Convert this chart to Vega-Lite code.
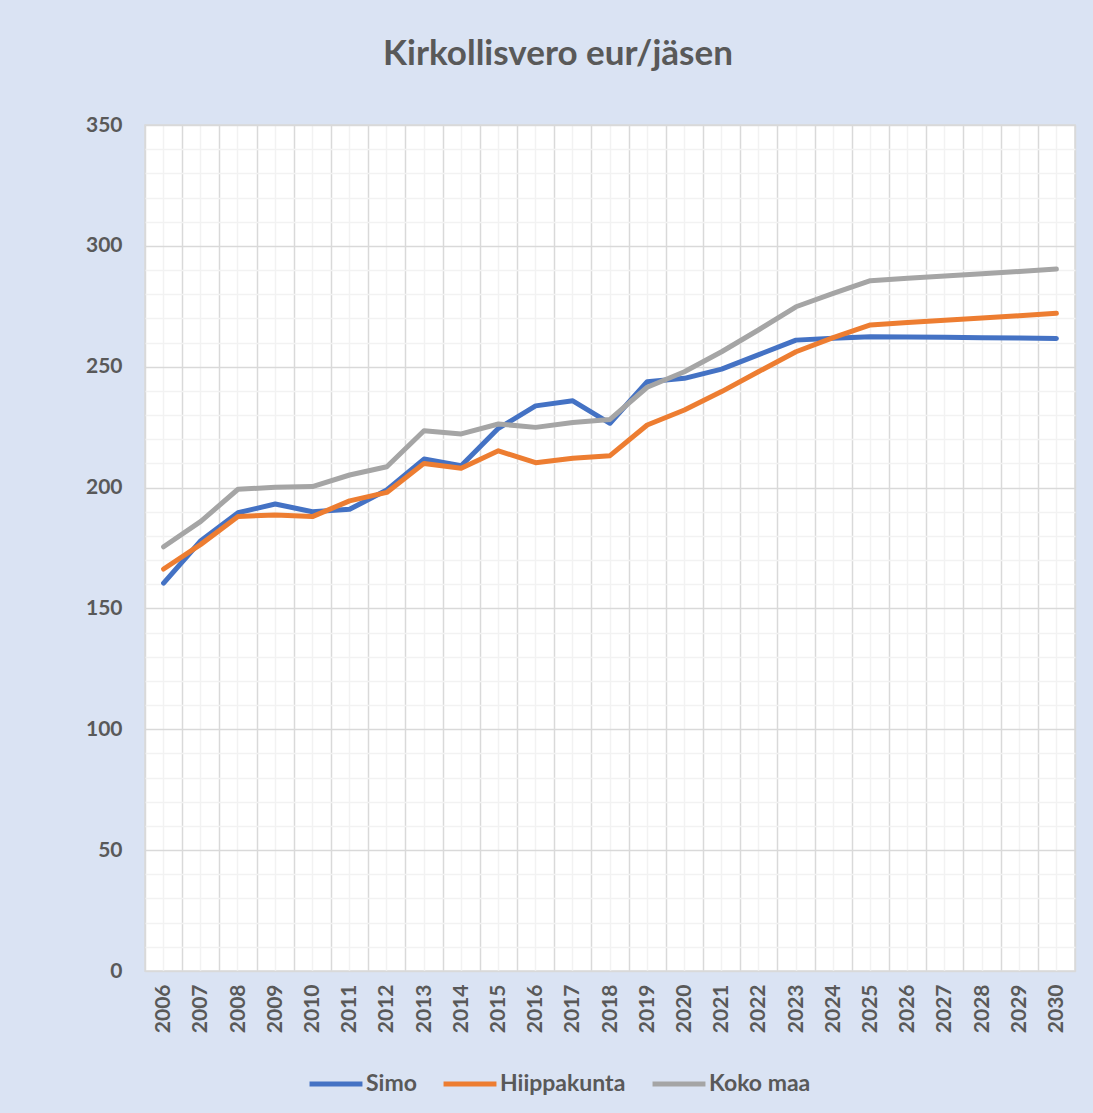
{
  "$schema": "https://vega.github.io/schema/vega-lite/v6.json",
  "width": 930,
  "height": 846,
  "autosize": {"type": "none"},
  "padding": {"left": 145, "top": 125, "right": 18, "bottom": 142},
  "background": "#dae3f3",
  "title": {
    "text": "Kirkollisvero eur/jäsen",
    "font": "Lato",
    "fontSize": 35,
    "fontWeight": "bold",
    "color": "#595959",
    "anchor": "middle",
    "dx": -52,
    "offset": 42
  },
  "config": {
    "view": {"fill": "white", "stroke": "#d9d9d9", "strokeWidth": 1.5},
    "axis": {
      "labelFont": "Lato",
      "labelFontSize": 21,
      "labelFontWeight": "bold",
      "labelColor": "#595959",
      "domain": false,
      "ticks": false,
      "title": null
    }
  },
  "data": {
    "values": [
      {"year": "2006", "series": "Simo", "value": 160.5},
      {"year": "2007", "series": "Simo", "value": 178.0},
      {"year": "2008", "series": "Simo", "value": 189.6},
      {"year": "2009", "series": "Simo", "value": 193.2},
      {"year": "2010", "series": "Simo", "value": 190.0},
      {"year": "2011", "series": "Simo", "value": 191.0},
      {"year": "2012", "series": "Simo", "value": 199.0},
      {"year": "2013", "series": "Simo", "value": 211.8},
      {"year": "2014", "series": "Simo", "value": 209.0},
      {"year": "2015", "series": "Simo", "value": 224.5},
      {"year": "2016", "series": "Simo", "value": 233.8},
      {"year": "2017", "series": "Simo", "value": 235.9},
      {"year": "2018", "series": "Simo", "value": 226.6},
      {"year": "2019", "series": "Simo", "value": 243.8},
      {"year": "2020", "series": "Simo", "value": 245.2},
      {"year": "2021", "series": "Simo", "value": 249.0},
      {"year": "2022", "series": "Simo", "value": 255.0},
      {"year": "2023", "series": "Simo", "value": 261.0},
      {"year": "2024", "series": "Simo", "value": 261.8},
      {"year": "2025", "series": "Simo", "value": 262.4},
      {"year": "2026", "series": "Simo", "value": 262.3},
      {"year": "2027", "series": "Simo", "value": 262.2},
      {"year": "2028", "series": "Simo", "value": 262.0},
      {"year": "2029", "series": "Simo", "value": 261.9},
      {"year": "2030", "series": "Simo", "value": 261.7},
      {"year": "2006", "series": "Hiippakunta", "value": 166.3},
      {"year": "2007", "series": "Hiippakunta", "value": 176.5},
      {"year": "2008", "series": "Hiippakunta", "value": 188.0},
      {"year": "2009", "series": "Hiippakunta", "value": 188.7},
      {"year": "2010", "series": "Hiippakunta", "value": 188.0},
      {"year": "2011", "series": "Hiippakunta", "value": 194.5},
      {"year": "2012", "series": "Hiippakunta", "value": 198.0},
      {"year": "2013", "series": "Hiippakunta", "value": 210.0},
      {"year": "2014", "series": "Hiippakunta", "value": 208.0},
      {"year": "2015", "series": "Hiippakunta", "value": 215.2},
      {"year": "2016", "series": "Hiippakunta", "value": 210.3},
      {"year": "2017", "series": "Hiippakunta", "value": 212.1},
      {"year": "2018", "series": "Hiippakunta", "value": 213.2},
      {"year": "2019", "series": "Hiippakunta", "value": 225.9},
      {"year": "2020", "series": "Hiippakunta", "value": 232.1},
      {"year": "2021", "series": "Hiippakunta", "value": 239.7},
      {"year": "2022", "series": "Hiippakunta", "value": 248.0},
      {"year": "2023", "series": "Hiippakunta", "value": 256.2},
      {"year": "2024", "series": "Hiippakunta", "value": 262.0},
      {"year": "2025", "series": "Hiippakunta", "value": 267.3},
      {"year": "2026", "series": "Hiippakunta", "value": 268.3},
      {"year": "2027", "series": "Hiippakunta", "value": 269.2},
      {"year": "2028", "series": "Hiippakunta", "value": 270.2},
      {"year": "2029", "series": "Hiippakunta", "value": 271.1},
      {"year": "2030", "series": "Hiippakunta", "value": 272.1},
      {"year": "2006", "series": "Koko maa", "value": 175.5},
      {"year": "2007", "series": "Koko maa", "value": 186.0},
      {"year": "2008", "series": "Koko maa", "value": 199.3},
      {"year": "2009", "series": "Koko maa", "value": 200.1},
      {"year": "2010", "series": "Koko maa", "value": 200.4},
      {"year": "2011", "series": "Koko maa", "value": 205.2},
      {"year": "2012", "series": "Koko maa", "value": 208.6},
      {"year": "2013", "series": "Koko maa", "value": 223.5},
      {"year": "2014", "series": "Koko maa", "value": 222.2},
      {"year": "2015", "series": "Koko maa", "value": 226.3},
      {"year": "2016", "series": "Koko maa", "value": 224.9},
      {"year": "2017", "series": "Koko maa", "value": 226.9},
      {"year": "2018", "series": "Koko maa", "value": 228.2},
      {"year": "2019", "series": "Koko maa", "value": 241.5},
      {"year": "2020", "series": "Koko maa", "value": 247.9},
      {"year": "2021", "series": "Koko maa", "value": 256.2},
      {"year": "2022", "series": "Koko maa", "value": 265.3},
      {"year": "2023", "series": "Koko maa", "value": 274.8},
      {"year": "2024", "series": "Koko maa", "value": 280.3},
      {"year": "2025", "series": "Koko maa", "value": 285.6},
      {"year": "2026", "series": "Koko maa", "value": 286.6},
      {"year": "2027", "series": "Koko maa", "value": 287.5},
      {"year": "2028", "series": "Koko maa", "value": 288.5},
      {"year": "2029", "series": "Koko maa", "value": 289.4},
      {"year": "2030", "series": "Koko maa", "value": 290.4}
    ]
  },
  "layer": [
    {
      "mark": {"type": "line", "opacity": 0},
      "encoding": {
        "x": {
          "field": "year", "type": "ordinal", "bandPosition": 0.5,
          "scale": {"type": "band", "paddingInner": 0, "paddingOuter": 0},
          "axis": {"orient": "bottom", "labels": false, "grid": true, "gridColor": "#f2f2f2", "gridWidth": 1.5, "tickBand": "center", "minExtent": 0, "maxExtent": 0}
        },
        "y": {
          "field": "value", "type": "quantitative",
          "scale": {"domain": [0, 350], "nice": false},
          "axis": {"orient": "left", "labels": false, "grid": true, "gridColor": "#f2f2f2", "gridWidth": 1.5, "values": [10,20,30,40,60,70,80,90,110,120,130,140,160,170,180,190,210,220,230,240,260,270,280,290,310,320,330,340], "minExtent": 0, "maxExtent": 0}
        },
        "detail": {"field": "series"}
      }
    },
    {
      "mark": {"type": "line", "strokeWidth": 5, "strokeCap": "round", "strokeJoin": "round"},
      "encoding": {
        "x": {
          "field": "year", "type": "ordinal", "bandPosition": 0.5,
          "axis": {"orient": "bottom", "labelAngle": -90, "labelPadding": 13, "grid": true, "gridColor": "#d9d9d9", "gridWidth": 1.5, "tickBand": "extent"}
        },
        "y": {
          "field": "value", "type": "quantitative",
          "axis": {"orient": "left", "values": [0, 50, 100, 150, 200, 250, 300, 350], "labelPadding": 23, "grid": true, "gridColor": "#d9d9d9", "gridWidth": 1.5}
        },
        "color": {
          "field": "series", "type": "nominal",
          "scale": {"domain": ["Simo", "Hiippakunta", "Koko maa"], "range": ["#4472c4", "#ed7d31", "#a5a5a5"]},
          "legend": {
            "title": null,
            "orient": "none",
            "direction": "horizontal",
            "legendX": 162,
            "legendY": 930,
            "symbolType": "stroke",
            "symbolSize": 2800,
            "symbolStrokeWidth": 5,
            "labelFont": "Lato",
            "labelFontSize": 23,
            "labelFontWeight": "bold",
            "labelColor": "#595959",
            "labelOffset": 1,
            "columnPadding": 16
          }
        }
      }
    }
  ],
  "resolve": {"axis": {"x": "independent", "y": "independent"}}
}
